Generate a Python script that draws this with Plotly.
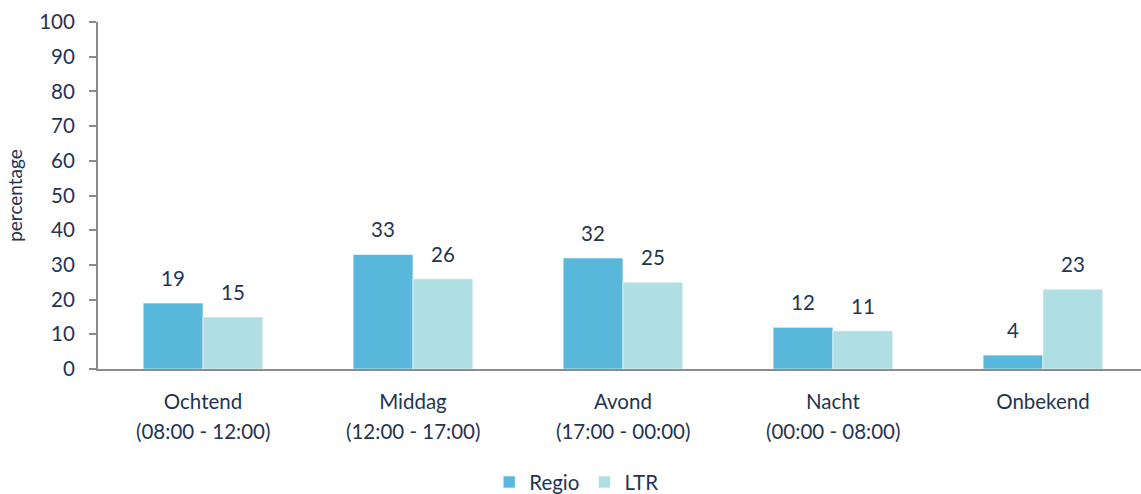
import plotly.graph_objects as go

# Data
categories = ["Ochtend", "Middag", "Avond", "Nacht", "Onbekend"]
time_ranges = ["(08:00 - 12:00)", "(12:00 - 17:00)", "(17:00 - 00:00)", "(00:00 - 08:00)", ""]
regio = [19, 33, 32, 12, 4]
ltr = [15, 26, 25, 11, 23]
y_ticks = [0, 10, 20, 30, 40, 50, 60, 70, 80, 90, 100]

TEXT = "#1F3552"
AXIS = "#8A8C8F"
FONT = "Lato, 'Open Sans', sans-serif"
FS = 20.5
C_REGIO = "#5AB7DC"
C_LTR = "#AFDEE3"

fig = go.Figure()
fig.add_trace(go.Bar(name="Regio", x=categories, y=regio, marker_color=C_REGIO,
                     marker_line=dict(color="rgba(255,255,255,0.6)", width=1)))
fig.add_trace(go.Bar(name="LTR", x=categories, y=ltr, marker_color=C_LTR,
                     marker_line=dict(color="rgba(255,255,255,0.6)", width=1)))

annotations = []
# value labels above each bar
for cat, v in zip(categories, regio):
    annotations.append(dict(x=cat, y=v, text=str(v), showarrow=False, xref="x", yref="y",
                            yanchor="bottom", xshift=-30, yshift=11,
                            font=dict(size=FS, color=TEXT, family=FONT)))
for cat, v in zip(categories, ltr):
    annotations.append(dict(x=cat, y=v, text=str(v), showarrow=False, xref="x", yref="y",
                            yanchor="bottom", xshift=30, yshift=11,
                            font=dict(size=FS, color=TEXT, family=FONT)))
# second line of category labels
for cat, tr in zip(categories, time_ranges):
    if tr:
        annotations.append(dict(x=cat, y=0, text=tr, showarrow=False, xref="x", yref="y",
                                yanchor="middle", yshift=-62,
                                font=dict(size=FS, color=TEXT, family=FONT)))

fig.update_layout(
    width=1141, height=494,
    margin=dict(l=97.5, r=0, t=22, b=124.5),
    paper_bgcolor="white", plot_bgcolor="white",
    barmode="group", bargap=0.43, bargroupgap=0,
    font=dict(family=FONT, size=FS, color=TEXT),
    showlegend=True,
    legend=dict(orientation="h", xref="container", x=0.505, xanchor="center",
                yref="container", y=0.024, yanchor="middle",
                font=dict(size=FS, color=TEXT, family=FONT),
                itemwidth=30, tracegroupgap=0),
    annotations=annotations,
    xaxis=dict(type="category", range=[-0.5, 4.467], showline=True, linecolor=AXIS, linewidth=2,
               ticks="", showgrid=False, zeroline=False,
               tickfont=dict(size=FS, color=TEXT, family=FONT), ticklabelstandoff=13),
    yaxis=dict(range=[0, 100], tickvals=y_ticks, showline=True, linecolor=AXIS, linewidth=2,
               ticks="outside", ticklen=7, tickcolor=AXIS, tickwidth=2,
               showgrid=False, zeroline=False,
               tickfont=dict(size=FS, color=TEXT, family=FONT), ticklabelstandoff=10,
               title=dict(text="percentage", font=dict(size=19, color=TEXT, family=FONT), standoff=12)),
)

fig.write_html("out.html")
